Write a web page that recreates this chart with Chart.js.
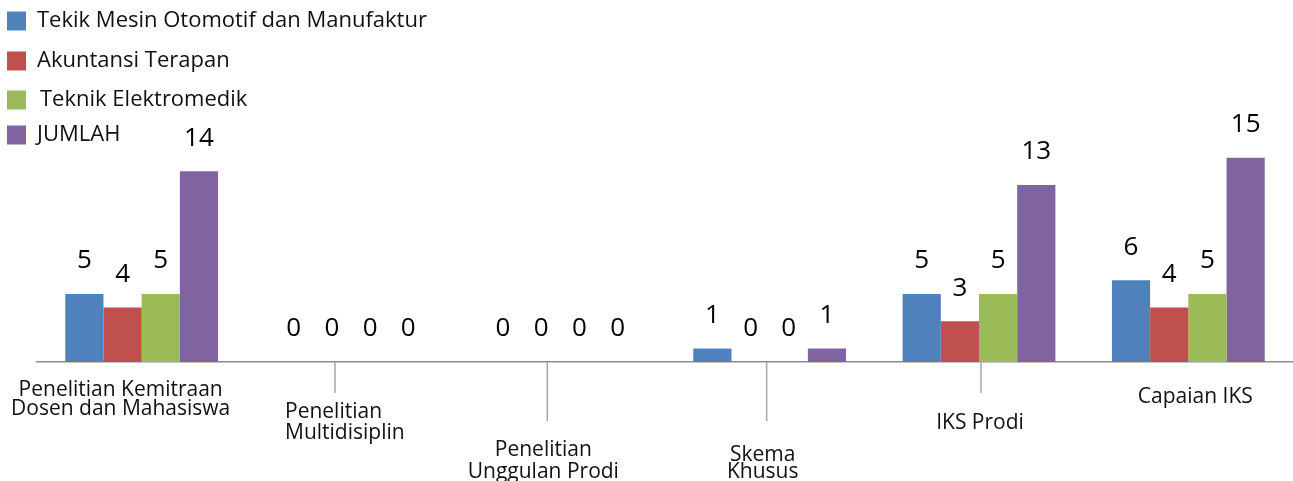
<!DOCTYPE html>
<html><head><meta charset="utf-8">
<script src="https://cdn.jsdelivr.net/npm/chart.js@4.4.1/dist/chart.umd.min.js"></script>
<style>html,body{margin:0;padding:0;background:#fff;} #wrap{width:1293px;height:481px;position:relative}</style>
</head><body><div id="wrap"><canvas id="c"></canvas></div>
<script>
// ---- data ----
const categories = [["Penelitian Kemitraan","Dosen dan Mahasiswa"],["Penelitian","Multidisiplin"],["Penelitian","Unggulan Prodi"],["Skema","Khusus"],["IKS Prodi"],["Capaian IKS"]];
const seriesNames = ["Tekik Mesin Otomotif dan Manufaktur","Akuntansi Terapan","Teknik Elektromedik","JUMLAH"];
const tekikMesin = [5,0,0,1,5,6];
const akuntansi = [4,0,0,0,3,4];
const elektromedik = [5,0,0,0,5,5];
const jumlah = [14,0,0,1,13,15];
const seriesColors = ["#4F81BD","#C0504D","#9BBB59","#8064A2"];

// ---- layout (styles/positions only) ----
const FONT = "'Open Sans', 'Noto Sans', sans-serif";
const catLabelLayout = [
  {dx:-21, y:390, lh:19, align:'center', leader:null},
  {dx:-66, y:412, lh:21, align:'left', leader:{dx:-16, end:393}},
  {dx:-17, y:450, lh:22, align:'center', leader:{dx:-13, end:421}},
  {dx:-7,  y:455, lh:17, align:'center', leader:{dx:-3, end:421}},
  {dx:1,   y:423, lh:20, align:'center', leader:{dx:2, end:393}},
  {dx:7,   y:397, lh:20, align:'center', leader:null}
];
const legendLayout = {x:7, textX:37, rows:[21,61,100,135], box:19};

const allSeries = [tekikMesin, akuntansi, elektromedik, jumlah];

const valueLabels = {
  id:'valueLabels',
  afterDatasetsDraw(chart){
    const ctx = chart.ctx;
    ctx.save();
    ctx.font = "26px " + FONT;
    ctx.fillStyle = "#000";
    ctx.textAlign = 'center';
    ctx.textBaseline = 'middle';
    chart.data.datasets.forEach((ds, i) => {
      chart.getDatasetMeta(i).data.forEach((bar, j) => {
        ctx.fillText(String(ds.data[j]), bar.x, bar.y - 33);
      });
    });
    ctx.restore();
  }
};

const catLabels = {
  id:'catLabels',
  afterDraw(chart){
    const ctx = chart.ctx, xs = chart.scales.x, base = chart.chartArea.bottom;
    ctx.save();
    categories.forEach((lines, i) => {
      const L = catLabelLayout[i];
      const cx = xs.getPixelForValue(i);
      if (L.leader){
        ctx.strokeStyle = '#a6a6a6';
        ctx.lineWidth = 1.5;
        ctx.beginPath();
        ctx.moveTo(cx + L.leader.dx, base);
        ctx.lineTo(cx + L.leader.dx, L.leader.end);
        ctx.stroke();
      }
      ctx.font = "21px " + FONT;
      ctx.fillStyle = '#111';
      ctx.textAlign = L.align;
      ctx.textBaseline = 'middle';
      lines.forEach((t, k) => ctx.fillText(t, cx + L.dx, L.y + k*L.lh));
    });
    ctx.restore();
  }
};

const legendDraw = {
  id:'legendDraw',
  afterDraw(chart){
    const ctx = chart.ctx;
    ctx.save();
    chart.data.datasets.forEach((ds, i) => {
      const y = legendLayout.rows[i];
      ctx.fillStyle = ds.backgroundColor;
      ctx.fillRect(legendLayout.x, y - legendLayout.box/2, legendLayout.box, legendLayout.box);
      ctx.fillStyle = '#111';
      ctx.font = "22px " + FONT;
      ctx.textAlign = 'left';
      ctx.textBaseline = 'middle';
      ctx.fillText(ds.label, legendLayout.textX + (i===2?3:0), y);
    });
    ctx.restore();
  }
};

new Chart(document.getElementById('c'), {
  type:'bar',
  data:{
    labels: categories,
    datasets: allSeries.map((d, i) => ({
      label: seriesNames[i],
      data: d,
      backgroundColor: seriesColors[i],
      borderWidth: 0,
      categoryPercentage: 0.73,
      barPercentage: 1.0
    }))
  },
  options:{
    responsive:true,
    maintainAspectRatio:false,
    animation:false,
    layout:{padding:{left:37, right:0, top:144, bottom:119}},
    plugins:{legend:{display:false}, tooltip:{enabled:false}},
    scales:{
      x:{
        grid:{display:false, drawTicks:false},
        border:{display:true, color:'#8c8c8c', width:1.5},
        ticks:{display:false},
        afterFit(s){ s.height = 0; }
      },
      y:{display:false, min:0, max:16}
    }
  },
  plugins:[valueLabels, catLabels, legendDraw]
});
</script>
</body></html>
